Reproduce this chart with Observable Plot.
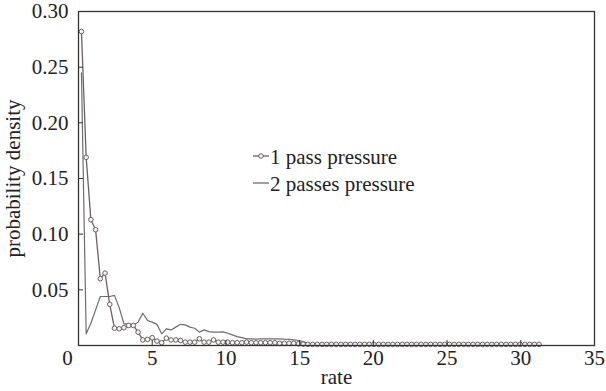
<!DOCTYPE html>
<html><head><meta charset="utf-8">
<script src="https://cdn.jsdelivr.net/npm/d3@7"></script>
<script src="https://cdn.jsdelivr.net/npm/@observablehq/plot@0.6"></script>
<style>
body{margin:0;background:#fff;}
#wrap{position:relative;width:606px;height:391px;font-family:"Liberation Serif","Times New Roman",Times,"DejaVu Serif",serif;}
#wrap svg text{font-family:"Liberation Serif","Times New Roman",Times,"DejaVu Serif",serif !important;}
#legend{position:absolute;left:253px;top:144px;font-size:21px;color:#222;}
.row{display:flex;align-items:center;height:27px;white-space:nowrap;}
.row svg{display:block;margin-right:1px;}
</style></head>
<body><div id="wrap"></div>
<script>
const rate = [0.20,0.52,0.84,1.16,1.48,1.80,2.12,2.44,2.76,3.08,
3.40,3.72,4.04,4.36,4.68,5.00,5.32,5.64,5.96,6.28,
6.60,6.92,7.24,7.56,7.88,8.20,8.52,8.84,9.16,9.48,
9.80,10.12,10.44,10.76,11.08,11.40,11.72,12.04,12.36,12.68,
13.00,13.32,13.64,13.96,14.28,14.60,14.92,15.24,15.56,15.88,
16.20,16.52,16.84,17.16,17.48,17.80,18.12,18.44,18.76,19.08,
19.40,19.72,20.04,20.36,20.68,21.00,21.32,21.64,21.96,22.28,
22.60,22.92,23.24,23.56,23.88,24.20,24.52,24.84,25.16,25.48,
25.80,26.12,26.44,26.76,27.08,27.40,27.72,28.04,28.36,28.68,
29.00,29.32,29.64,29.96,30.28,30.60,30.92,31.24];

const onePass = [0.282,0.169,0.113,0.104,0.060,0.065,0.037,0.0155,0.015,0.016,
0.018,0.018,0.012,0.005,0.0055,0.007,0.004,0.0025,0.0066,0.005,
0.005,0.0045,0.003,0.003,0.003,0.006,0.003,0.003,0.005,0.003,
0.003,0.003,0.0025,0.0025,0.0025,0.003,0.0025,0.0025,0.0025,0.0025,
0.0025,0.0025,0.002,0.002,0.002,0.002,0.0015,0.0012,0.001,0.001,
0.001,0.001,0.001,0.001,0.001,0.001,0.001,0.001,0.001,0.001,
0.001,0.001,0.001,0.001,0.001,0.001,0.001,0.001,0.001,0.001,
0.001,0.001,0.001,0.001,0.001,0.001,0.001,0.001,0.001,0.001,
0.001,0.001,0.001,0.001,0.001,0.001,0.001,0.001,0.001,0.001,
0.001,0.001,0.001,0.001,0.001,0.001,0.001,0.001];

const twoPasses = [0.245,0.0105,0.020,0.032,0.044,0.044,0.044,0.045,0.034,0.0195,
0.0195,0.018,0.021,0.029,0.0225,0.021,0.019,0.0105,0.015,0.014,
0.0165,0.019,0.0185,0.0165,0.0155,0.012,0.014,0.0125,0.012,0.012,
0.0123,0.011,0.0095,0.008,0.007,0.006,0.006,0.0057,0.006,0.006,
0.006,0.006,0.006,0.0057,0.0055,0.005,0.0045,0.0035,0.002,0.0012,
0.0008,0.0008,0.0008,0.0008,0.0008,0.0008,0.0008,0.0008,0.0008,0.0008,
0.0008,0.0008,0.0008,0.0008,0.0008,0.0008,0.0008,0.0008,0.0008,0.0008,
0.0008,0.0008,0.0008,0.0008,0.0008,0.0008,0.0008,0.0008,0.0008,0.0008,
0.0008,0.0008,0.0008,0.0008,0.0008,0.0008,0.0008,0.0008,0.0008,0.0008,
0.0008,0.0008,0.0008,0.0008,0.0008,0.0008,0.0008,0.0008];

const xTicks = [5,10,15,20,25,30,35];
const yTicks = [0.05,0.10,0.15,0.20,0.25,0.30];
const originLabel = ["0"];
const seriesNames = ["1 pass pressure","2 passes pressure"];
const colors = {one:"#6a6262", two:"#6e6e6e", frame:"#333"};

const rows1 = rate.map((r,i)=>({rate:r, v:onePass[i]}));
const rows2 = rate.map((r,i)=>({rate:r, v:twoPasses[i]}));

const font = '"Liberation Serif","Times New Roman",Times,"DejaVu Serif",serif';
const chart = Plot.plot({
  width:606, height:391,
  marginLeft:78, marginRight:12, marginTop:11, marginBottom:46,
  style:{fontFamily:font, fontSize:"20px", color:"#222", background:"#fff", overflow:"visible"},
  x:{domain:[0,35]},
  y:{domain:[0,0.30]},
  marks:[
    Plot.line(rows2,{x:"rate", y:"v", stroke:colors.two, strokeWidth:1.2}),
    Plot.line(rows1,{x:"rate", y:"v", stroke:colors.one, strokeWidth:1.3}),
    Plot.dot(rows1,{x:"rate", y:"v", r:2.3, stroke:colors.one, strokeWidth:1, fill:"#f4f2f2"}),
    Plot.frame({stroke:colors.frame, strokeWidth:1.3}),
    Plot.axisX({ticks:xTicks, tickSize:-5, tickPadding:10, stroke:colors.frame, fontSize:21,
      label:"rate", labelAnchor:"center", labelArrow:"none", labelOffset:38}),
    Plot.axisY({ticks:yTicks, tickSize:-5, tickPadding:15, stroke:colors.frame, fontSize:21,
      tickFormat:d3.format(".2f"),
      label:"probability density", labelAnchor:"center", labelArrow:"none", labelOffset:73}),
    Plot.text(originLabel,{x:0, y:0, text:d=>d, dx:-11, dy:13, fontSize:21, fill:"#222"})
  ]
});
const wrap = document.getElementById("wrap");
wrap.appendChild(chart);

const legend = document.createElement("div");
legend.id = "legend";
const markers = [
  `<svg width="16" height="27"><line x1="0" x2="16" y1="12" y2="12" stroke="${colors.one}" stroke-width="1.3"/><circle cx="8" cy="12" r="2.3" fill="#f4f2f2" stroke="${colors.one}"/></svg>`,
  `<svg width="16" height="27"><line x1="0" x2="16" y1="12" y2="12" stroke="${colors.two}" stroke-width="1.3"/></svg>`
];
seriesNames.forEach((name,i)=>{
  const row = document.createElement("div");
  row.className = "row";
  row.innerHTML = markers[i] + `<span>${name}</span>`;
  legend.appendChild(row);
});
wrap.appendChild(legend);
</script>
</body></html>
